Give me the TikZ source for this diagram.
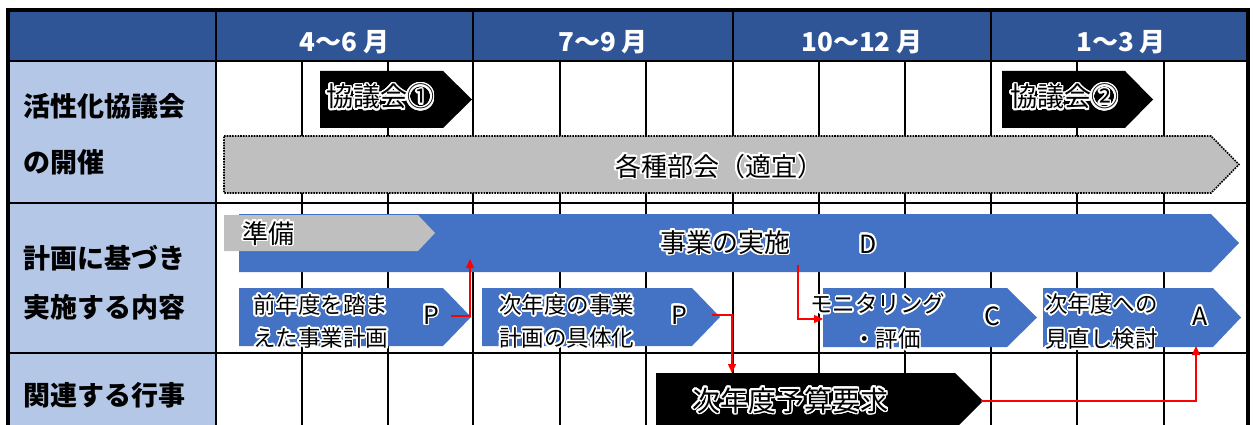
\documentclass[tikz,border=0pt]{standalone}
\usepackage{fontspec}
\setmainfont{Noto Sans CJK JP}
\usepackage{contour}
\contourlength{1.6pt}
\contournumber{24}
\usetikzlibrary{arrows.meta}
\definecolor{hdr}{HTML}{2F5597}
\definecolor{lcol}{HTML}{B4C7E7}
\definecolor{bluebar}{HTML}{4472C4}
\definecolor{graybar}{HTML}{BFBFBF}
\newcommand\gl[1]{\contour{white}{#1}}
\newcommand\pent[6]{\path[#1] (#2,#3) -- (#5,#3) -- (#6,{(#3+#4)/2}) -- (#5,#4) -- (#2,#4) -- cycle;}
\begin{document}
\begin{tikzpicture}[x=1pt,y=-1pt,
  gridln/.style={line width=2.5pt},
  border/.style={line width=4pt},
  hdrtext/.style={text=white, font=\fontsize{26}{30}\selectfont\bfseries, anchor=base, inner sep=0pt},
  lbl/.style={font=\fontsize{27}{30}\selectfont\bfseries, anchor=base west, inner sep=0pt},
  bigtxt/.style={font=\fontsize{26}{30}\selectfont, anchor=base, inner sep=0pt},
  smtxt/.style={font=\fontsize{22.5}{26}\selectfont, anchor=base west, inner sep=0pt},
  letter/.style={font=\fontsize{25}{28}\selectfont, anchor=base, inner sep=0pt},
  blackshape/.style={fill=black},
  blueshape/.style={fill=bluebar},
  grayshape/.style={fill=graybar},
  dotshape/.style={fill=graybar, draw=black, line width=1.6pt, dash pattern=on 1.6pt off 1.1pt},
  redline/.style={draw=red, line width=1.4pt, -{Triangle[length=9pt,width=8pt]}}]
\useasboundingbox (0,0) rectangle (1253,425);
\clip (0,0) rectangle (1253,425);
% fills
\fill[hdr] (8,10) rectangle (1248,61);
\fill[lcol] (8,61) rectangle (216,440);
% grid
\foreach \x in {302,388,560,646,819,905,1077,1164} \draw[gridln] (\x,61) -- (\x,440);
\foreach \x in {216,473,733,991} \draw[gridln] (\x,10) -- (\x,440);
\foreach \y in {61,203,353} \draw[gridln] (8,\y) -- (1248,\y);
\draw[border] (8,440) -- (8,10) -- (1248,10) -- (1248,440);
% header text
\node[hdrtext] (m1) at (344.5,52) {4〜6 月};
\node[hdrtext] (m2) at (603,52) {7〜9 月};
\node[hdrtext] (m3) at (862,52) {10〜12 月};
\node[hdrtext] (m4) at (1121,52) {1〜3 月};
% row labels
\node[lbl] (l1a) at (23,117) {活性化協議会};
\node[lbl] (l1b) at (23,172) {の開催};
\node[lbl] (l2a) at (23,268) {計画に基づき};
\node[lbl] (l2b) at (23,317) {実施する内容};
\node[lbl] (l3) at (23,405) {関連する行事};
% shapes row 1
\pent{blackshape}{320}{71}{128}{443}{472}
\pent{blackshape}{1002}{71}{128}{1125}{1153}
\pent{dotshape}{224}{136}{193}{1211}{1239}
\node[bigtxt, anchor=base west, font=\fontsize{27}{30}\selectfont] (k1) at (326,107) {\gl{協議会①}};
\node[bigtxt, anchor=base west, font=\fontsize{27}{30}\selectfont] (k2) at (1010,107) {\gl{協議会②}};
\node[bigtxt] (bukai) at (719,176) {\gl{各種部会（適宜）}};
% shapes row 2
\pent{blueshape}{239}{214}{272}{1211}{1239}
\pent{grayshape}{224}{215}{251}{418}{435}
\pent{blueshape}{239}{288}{346}{443}{471}
\pent{blueshape}{482}{288}{346}{692}{720}
\pent{blueshape}{823}{288}{347}{1007}{1037}
\pent{blueshape}{1043}{288}{347}{1213}{1241}
\node[bigtxt, anchor=base west] (jb) at (242,243) {\gl{準備}};
\node[bigtxt] (jj) at (725,252) {\gl{事業の実施}};
\node[letter] (D) at (868,253) {\gl{D}};
\node[smtxt] (p1a) at (253,313.5) {\gl{前年度を踏ま}};
\node[smtxt] (p1b) at (253,346.5) {\gl{えた事業計画}};
\node[letter] (P1) at (431,324) {\gl{P}};
\node[smtxt] (p2a) at (499,313.5) {\gl{次年度の事業}};
\node[smtxt] (p2b) at (499,346.5) {\gl{計画の具体化}};
\node[letter] (P2) at (679,324) {\gl{P}};
\node[smtxt] (ca) at (810,312.5) {\gl{モニタリング}};
\node[smtxt] (cb) at (853,347.5) {\gl{・評価}};
\node[letter] (C) at (992,325) {\gl{C}};
\node[smtxt] (aa) at (1045,312.5) {\gl{次年度への}};
\node[smtxt] (ab) at (1045,347.5) {\gl{見直し検討}};
\node[letter] (A) at (1200,325) {\gl{A}};
% row 3
\pent{blackshape}{656}{373}{429}{955}{983}
\node[bigtxt, anchor=base west, font=\fontsize{28}{30}\selectfont] (yosan) at (692,411) {\gl{次年度予算要求}};
% connectors
\coordinate (a1) at (451,316);
\coordinate (a2) at (470,259);
\coordinate (b1) at (798,265);
\coordinate (b2) at (823,319);
\coordinate (c1) at (712,315);
\coordinate (c2) at (732,373);
\coordinate (d1) at (981,401);
\coordinate (d2) at (1196,346);
\draw[redline] (a1) -| (a2);
\draw[redline] (b1) |- (b2);
\draw[redline] (c1) -| (c2);
\draw[redline] (d1) -| (d2);
\end{tikzpicture}
\end{document}
